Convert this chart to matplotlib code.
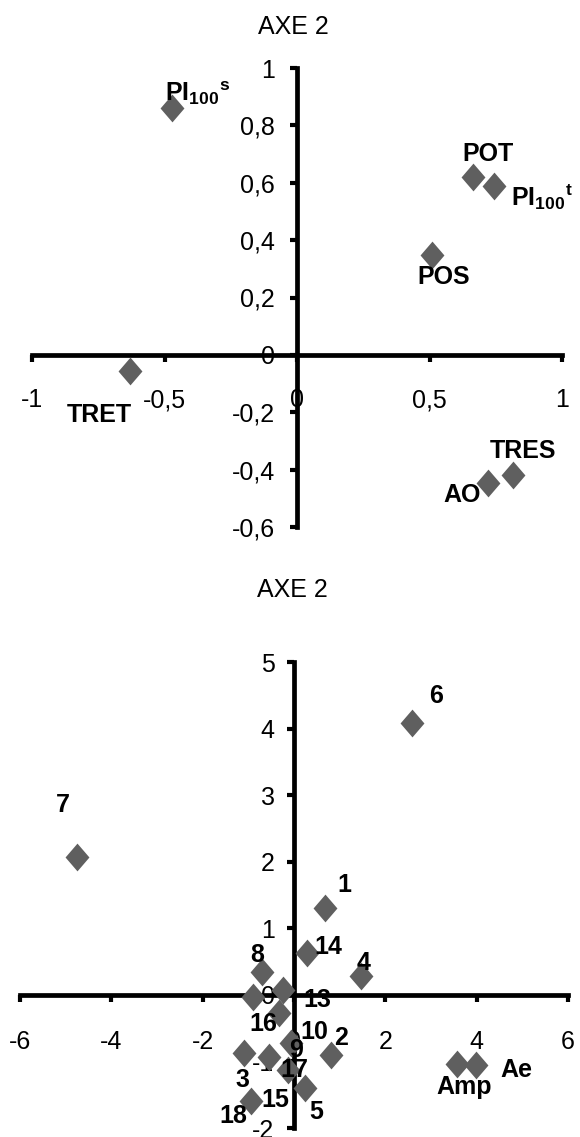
import matplotlib
matplotlib.use("Agg")
import matplotlib.pyplot as plt

plt.rcParams['font.family'] = ['Liberation Sans', 'DejaVu Sans']
plt.rcParams['mathtext.fontset'] = 'custom'
plt.rcParams['mathtext.rm'] = 'Liberation Sans'
plt.rcParams['mathtext.bf'] = 'Liberation Sans:bold'
plt.rcParams['mathtext.it'] = 'Liberation Sans:italic'

# ---------------- data ----------------
top_names = ['PI100s', 'POT', 'PI100t', 'POS', 'TRET', 'AO', 'TRES']
top_x = [-0.47, 0.665, 0.742, 0.511, -0.631, 0.721, 0.816]
top_y = [0.861, 0.620, 0.589, 0.348, -0.056, -0.446, -0.420]
top_xticks = [-1, -0.5, 0, 0.5, 1]
top_xticklabels = ['-1', '-0,5', '0', '0,5', '1']
top_yticks = [-0.6, -0.4, -0.2, 0, 0.2, 0.4, 0.6, 0.8, 1]
top_yticklabels = ['-0,6', '-0,4', '-0,2', '0', '0,2', '0,4', '0,6', '0,8', '1']

bot_names = ['1', '14', '4', '8', '13', '16', '10', '2', '9', '17', '3', '15',
             '5', '18', '6', '7', 'Amp', 'Ae']
bot_x = [0.68, 0.28, 1.47, -0.71, -0.25, -0.90, -0.32, 0.81, -0.07, -0.54,
         -1.09, -0.14, 0.23, -0.94, 2.58, -4.76, 3.57, 3.98]
bot_y = [1.31, 0.63, 0.29, 0.35, 0.08, -0.03, -0.27, -0.90, -0.72, -0.93,
         -0.87, -1.13, -1.40, -1.60, 4.08, 2.07, -1.04, -1.05]
bot_xticks = [-6, -4, -2, 0, 2, 4, 6]
bot_xticklabels = ['-6', '-4', '-2', '0', '2', '4', '6']
bot_yticks = [-2, -1, 0, 1, 2, 3, 4, 5]
bot_yticklabels = ['-2', '-1', '0', '1', '2', '3', '4', '5']

title_text = 'AXE 2'

# ---------------- styles ----------------
display = {
    'PI100s': r'$\mathbf{PI}_{\mathbf{100}}{}^{\mathbf{s}}$',
    'PI100t': r'$\mathbf{PI}_{\mathbf{100}}{}^{\mathbf{t}}$',
}
top_offsets = {
    'PI100s': (25, 15), 'POT': (15, 23), 'PI100t': (48, -11), 'POS': (11, -22),
    'TRET': (-30, -44), 'AO': (-26, -12), 'TRES': (10, 24),
}
bot_offsets = {
    '1': (19, 23), '14': (22, 6), '4': (2, 13), '8': (-4, 17), '13': (35, -10),
    '16': (10, -27), '10': (35, -19), '2': (10, 17), '9': (5, -7),
    '17': (25, -13), '3': (-2, -27), '15': (-12, -30), '5': (12, -24),
    '18': (-18, -15), '6': (24, 27), '7': (-14, 52), 'Amp': (7, -23),
    'Ae': (41, -5),
}

W, H = 580, 1137
fig = plt.figure(figsize=(W / 100, H / 100), dpi=100)
fig.patch.set_facecolor('white')

MARK = '#5f5f5f'
FS = 18
DIAMOND = [(0, 1), (0.86, 0), (0, -1), (-0.86, 0), (0, 1)]
MS = 20


def style_axes(ax, xlim, ylim, xt, xtl, yt, ytl, xpad, ypad):
    ax.set_xlim(*xlim)
    ax.set_ylim(*ylim)
    for s in ['top', 'right']:
        ax.spines[s].set_visible(False)
    for s in ['left', 'bottom']:
        ax.spines[s].set_position(('data', 0))
        ax.spines[s].set_linewidth(3.4)
        ax.spines[s].set_color('black')
    ax.set_xticks(xt)
    ax.set_xticklabels(xtl)
    ax.set_yticks(yt)
    ax.set_yticklabels(ytl)
    ax.tick_params(axis='both', direction='out', length=5, width=3,
                   labelsize=FS, colors='black')
    ax.tick_params(axis='x', pad=xpad)
    ax.tick_params(axis='y', pad=ypad)
    ax.patch.set_alpha(0)


# top chart
ax1 = fig.add_axes([32 / W, 1 - 527 / H, 530 / W, 459 / H])
style_axes(ax1, (-1, 1), (-0.6, 1), top_xticks, top_xticklabels,
           top_yticks, top_yticklabels, 19, 11)
ax1.plot(top_x, top_y, linestyle='none', marker=DIAMOND, markersize=MS,
         color=MARK, markeredgewidth=0, clip_on=False, zorder=3)
for n, x, y in zip(top_names, top_x, top_y):
    ax1.annotate(display.get(n, n), (x, y), xytext=top_offsets[n],
                 textcoords='offset pixels', ha='center', va='center',
                 fontsize=FS, fontweight='bold', zorder=4)

# bottom chart
ax2 = fig.add_axes([20 / W, 1 - 1128 / H, 548 / W, 466 / H])
style_axes(ax2, (-6, 6), (-2, 5), bot_xticks, bot_xticklabels,
           bot_yticks, bot_yticklabels, 20, 9)
ax2.plot(bot_x, bot_y, linestyle='none', marker=DIAMOND, markersize=MS,
         color=MARK, markeredgewidth=0, clip_on=False, zorder=3)
for n, x, y in zip(bot_names, bot_x, bot_y):
    ax2.annotate(n, (x, y), xytext=bot_offsets[n],
                 textcoords='offset pixels', ha='center', va='center',
                 fontsize=FS, fontweight='bold', zorder=4)

fig.text(293 / W, 1 - 27 / H, title_text, ha='center', va='center', fontsize=FS)
fig.text(292 / W, 1 - 590 / H, title_text, ha='center', va='center', fontsize=FS)

fig.savefig('out.png', dpi=100, facecolor='white')
